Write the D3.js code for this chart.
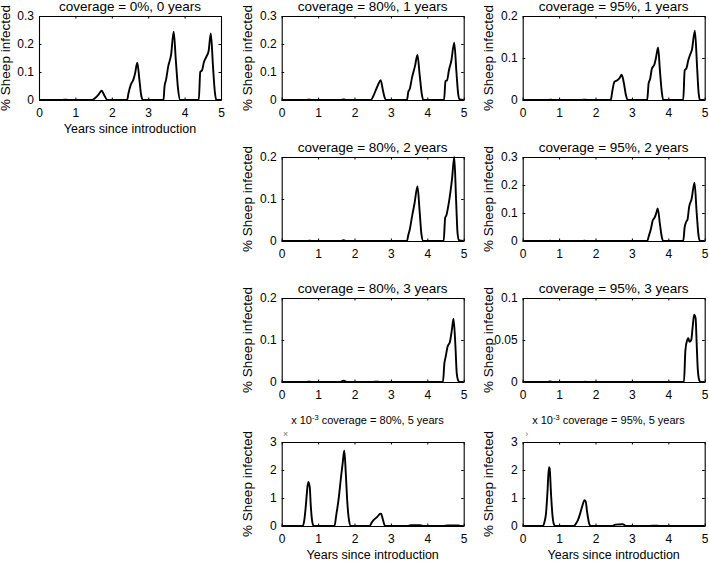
<!DOCTYPE html>
<html>
<head>
<meta charset="utf-8">
<script src="https://cdn.jsdelivr.net/npm/d3@7"></script>
<style>
  body { margin: 0; background: #fff; }
  svg { display: block; font-family: "Liberation Sans", Arial, sans-serif; }
</style>
</head>
<body>
<svg id="chart" width="709" height="561"></svg>
<script>
// values (years since introduction, % sheep infected)
const cov0_0yr = [[0,0],[0.65,0],[0.72,0.0015],[0.8,0],[1.45,0],[1.55,0.008],[1.65,0.022],[1.72,0.033],[1.8,0.015],[1.88,0],
    [2.42,0],[2.46,0.025],[2.52,0.054],[2.59,0.072],[2.64,0.095],[2.7,0.133],[2.76,0.07],[2.81,0.015],[2.86,0],
    [3.42,0],[3.45,0.05],[3.49,0.072],[3.55,0.12],[3.63,0.163],[3.7,0.244],[3.76,0.14],[3.82,0.04],[3.88,0],
    [4.39,0],[4.43,0.1],[4.48,0.106],[4.53,0.135],[4.6,0.155],[4.66,0.175],[4.72,0.238],[4.78,0.12],[4.83,0.03],[4.87,0],[5,0]];

const cov80_1yr = [[0,0],[0.68,0],[0.75,0.0015],[0.82,0],[1.62,0],[1.7,0.002],[1.78,0],
    [2.45,0],[2.52,0.015],[2.6,0.04],[2.66,0.058],[2.72,0.071],[2.78,0.035],[2.83,0.008],[2.87,0],
    [3.44,0],[3.48,0.03],[3.52,0.04],[3.58,0.08],[3.66,0.12],[3.73,0.161],[3.79,0.09],[3.85,0.02],[3.89,0],
    [4.46,0],[4.5,0.068],[4.54,0.07],[4.6,0.11],[4.66,0.14],[4.74,0.205],[4.8,0.1],[4.85,0.02],[4.89,0.002],[5,0]];

const cov95_1yr = [[0,0],[0.7,0],[0.75,0.001],[0.82,0],[1.62,0],[1.7,0.001],[1.78,0],
    [2.42,0],[2.46,0.02],[2.52,0.043],[2.6,0.047],[2.66,0.052],[2.72,0.06],[2.78,0.04],[2.84,0.01],[2.89,0],
    [3.42,0],[3.46,0.04],[3.5,0.05],[3.55,0.075],[3.62,0.085],[3.66,0.1],[3.72,0.125],[3.77,0.07],[3.82,0.02],[3.86,0],
    [4.41,0],[4.45,0.07],[4.5,0.076],[4.55,0.095],[4.6,0.108],[4.65,0.12],[4.73,0.165],[4.79,0.08],[4.83,0.02],[4.87,0],[5,0]];

const cov80_2yr = [[0,0],[0.7,0],[0.75,0.001],[0.82,0],[1.62,0],[1.7,0.002],[1.78,0],
    [3.44,0],[3.48,0.015],[3.52,0.028],[3.58,0.058],[3.65,0.09],[3.73,0.13],[3.79,0.07],[3.84,0.015],[3.89,0],
    [4.45,0],[4.49,0.055],[4.52,0.06],[4.58,0.085],[4.64,0.12],[4.68,0.148],[4.74,0.2],[4.79,0.1],[4.83,0.02],[4.87,0.002],[5,0]];

const cov95_2yr = [[0,0],[0.7,0],[0.75,0.001],[0.82,0],[1.62,0],[1.7,0.001],[1.78,0],
    [3.42,0],[3.47,0.02],[3.52,0.042],[3.57,0.072],[3.63,0.085],[3.67,0.1],[3.71,0.116],[3.77,0.06],[3.82,0.015],[3.86,0],
    [4.41,0],[4.45,0.05],[4.49,0.068],[4.53,0.078],[4.57,0.12],[4.64,0.15],[4.72,0.208],[4.78,0.1],[4.83,0.02],[4.87,0],[5,0]];

const cov80_3yr = [[0,0],[0.68,0],[0.75,0.001],[0.82,0],[1.6,0],[1.7,0.003],[1.8,0],[2.5,0],[2.6,0.001],[2.7,0],
    [4.43,0],[4.47,0.045],[4.5,0.058],[4.56,0.085],[4.62,0.095],[4.68,0.127],[4.72,0.151],[4.77,0.09],[4.81,0.02],[4.85,0.003],[4.88,0],[5,0]];

const cov95_3yr = [[0,0],[0.68,0],[0.75,0.0007],[0.82,0],[1.65,0],[1.72,0.0003],[1.8,0],
    [4.43,0],[4.47,0.038],[4.52,0.05],[4.55,0.052],[4.58,0.048],[4.63,0.05],[4.67,0.066],[4.71,0.08],[4.75,0.076],[4.78,0.045],[4.81,0.015],[4.85,0.002],[4.88,0],[5,0]];

// these two are in units of 10^-3
const cov80_5yr = [[0,0],[0.58,0],[0.62,0.2],[0.66,0.68],[0.7,1.3],[0.73,1.57],[0.77,1.4],[0.8,0.7],[0.84,0.15],[0.88,0],
    [1.45,0],[1.5,0.4],[1.56,0.92],[1.63,1.75],[1.68,2.3],[1.72,2.7],[1.76,1.9],[1.8,0.9],[1.85,0.2],[1.9,0],
    [2.42,0],[2.47,0.12],[2.53,0.22],[2.62,0.32],[2.7,0.43],[2.73,0.44],[2.77,0.28],[2.82,0.05],[2.86,0],
    [3.45,0],[3.55,0.03],[3.8,0.03],[3.9,0],[4.45,0],[4.55,0.02],[4.85,0.02],[4.92,0],[5,0]];

const cov95_5yr = [[0,0],[0.55,0],[0.6,0.15],[0.64,0.44],[0.68,1.2],[0.72,2.1],[0.74,2.05],[0.78,1.1],[0.82,0.35],[0.86,0.05],[0.9,0],
    [1.4,0],[1.46,0.08],[1.52,0.22],[1.58,0.45],[1.63,0.68],[1.7,0.92],[1.73,0.88],[1.77,0.5],[1.82,0.12],[1.86,0],
    [2.45,0],[2.55,0.05],[2.75,0.06],[2.85,0],[3.45,0],[3.55,0.01],[3.7,0.01],[3.8,0],[5,0]];

const xTicks = [0, 1, 2, 3, 4, 5];
const yTicks03 = [0, 0.1, 0.2, 0.3];
const yTicks02 = [0, 0.1, 0.2];
const yTicks01 = [0, 0.05, 0.1];
const yTicks3 = [0, 1, 2, 3];

const titles = ["coverage = 0%, 0 years",
    "coverage = 80%, 1 years", "coverage = 95%, 1 years",
    "coverage = 80%, 2 years", "coverage = 95%, 2 years",
    "coverage = 80%, 3 years", "coverage = 95%, 3 years",
    "coverage = 80%, 5 years", "coverage = 95%, 5 years"];

const yLabel = "% Sheep infected";
const xLabel = "Years since introduction";

// layout of the grid
const colLeft = [39, 281.7, 522.7];
const rowTop = [16, 157, 298, 442];
const W = 182, H = 84;

const panels = [
    {data: cov0_0yr, col: 0, row: 0, ticks: yTicks03, xlab: true},
    {data: cov80_1yr, col: 1, row: 0, ticks: yTicks03},
    {data: cov95_1yr, col: 2, row: 0, ticks: yTicks02},
    {data: cov80_2yr, col: 1, row: 1, ticks: yTicks02},
    {data: cov95_2yr, col: 2, row: 1, ticks: yTicks03},
    {data: cov80_3yr, col: 1, row: 2, ticks: yTicks02},
    {data: cov95_3yr, col: 2, row: 2, ticks: yTicks01},
    {data: cov80_5yr, col: 1, row: 3, ticks: yTicks3, xlab: true, exp: true, mark: "\u00d7"},
    {data: cov95_5yr, col: 2, row: 3, ticks: yTicks3, xlab: true, exp: true, mark: "\u203a"}
];

let svg = d3.select("#chart");
let fmt = d3.format("~g");

panels.forEach((p, i) => {
    let left = colLeft[p.col], top = rowTop[p.row];
    let x = d3.scaleLinear().domain([0, 5]).range([0, W]);
    let y = d3.scaleLinear().domain([0, d3.max(p.ticks)]).range([H, 0]);

    let g = svg.append("g").attr("transform", `translate(${left},${top})`);

    let line = d3.line()
        .x(d => x(d[0]))
        .y(d => y(d[1]))
        .curve(d3.curveMonotoneX);

    g.append("path")
        .datum(p.data)
        .attr("d", line)
        .attr("fill", "none")
        .attr("stroke", "#000")
        .attr("stroke-width", 1.9)
        .attr("stroke-linejoin", "round");

    // matlab style box, ticks pointing in on all four sides
    let axes = [
        [d3.axisBottom(x).tickValues(xTicks).tickFormat(fmt).tickPadding(8), `translate(0,${H})`],
        [d3.axisLeft(y).tickValues(p.ticks).tickFormat(fmt).tickPadding(5), null],
        [d3.axisTop(x).tickValues(xTicks).tickFormat(""), null],
        [d3.axisRight(y).tickValues(p.ticks).tickFormat(""), `translate(${W},0)`]
    ];
    axes.forEach(([ax, tr]) => {
        let a = g.append("g")
            .attr("transform", tr)
            .call(ax.tickSizeInner(-2.5).tickSizeOuter(0));
        a.attr("font-family", null).attr("font-size", 12);
        a.select(".domain").attr("stroke", "#000").attr("stroke-width", 1.1);
        a.selectAll(".tick line").attr("stroke", "#000");
        a.selectAll(".tick text").attr("fill", "#000");
    });

    g.append("text")
        .attr("transform", `translate(-29.5,${H / 2}) rotate(-90)`)
        .attr("text-anchor", "middle")
        .attr("font-size", 13.5)
        .text(yLabel);

    if (p.xlab) {
        g.append("text")
            .attr("x", W / 2)
            .attr("y", H + 33)
            .attr("text-anchor", "middle")
            .attr("font-size", 12.5)
            .text(xLabel);
    }

    if (p.exp) {
        // exponent label collided with the title in the original
        let t = g.append("text")
            .attr("x", 9.5)
            .attr("y", -18)
            .attr("font-size", 11);
        t.append("tspan").text("x 10");
        t.append("tspan").attr("dy", -4).attr("font-size", 7.5).text("-3");
        t.append("tspan").attr("dy", 4).text(" " + titles[i]);

        g.append("text")
            .attr("x", 4)
            .attr("y", -5)
            .attr("text-anchor", "middle")
            .attr("font-size", 9)
            .attr("fill", "#777")
            .text(p.mark);
    } else {
        g.append("text")
            .attr("x", W / 2)
            .attr("y", -5)
            .attr("text-anchor", "middle")
            .attr("font-size", 13.5)
            .text(titles[i]);
    }
});
</script>
</body>
</html>
